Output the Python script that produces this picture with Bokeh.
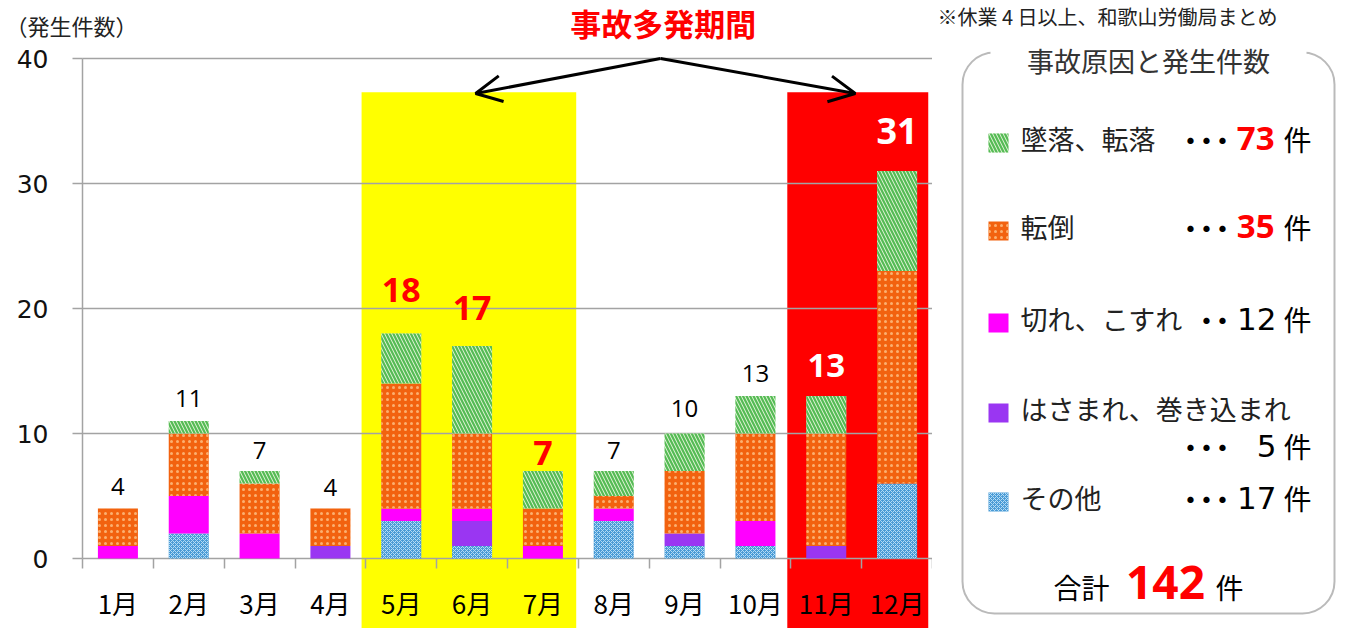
import numpy as np
from bokeh.plotting import figure
from bokeh.models import Range1d, FixedTicker, ColumnDataSource, Arrow, OpenHead, BoxAnnotation
from bokeh.layouts import row
from bokeh.embed import file_html
from bokeh.resources import INLINE
from bokeh.core.properties import value

# ---------------- data ----------------
months = ["1月", "2月", "3月", "4月", "5月", "6月", "7月", "8月", "9月", "10月", "11月", "12月"]
other  = [0, 2, 0, 0, 3, 1, 0, 3, 1, 1, 0, 6]     # その他 (blue)
pinch  = [0, 0, 0, 1, 0, 2, 0, 0, 1, 0, 1, 0]     # はさまれ、巻き込まれ (purple)
cut    = [1, 3, 2, 0, 1, 1, 1, 1, 0, 2, 0, 0]     # 切れ、こすれ (magenta)
orange = [3, 5, 4, 3, 10, 6, 3, 1, 5, 7, 9, 17]   # orange dotted series
green  = [0, 1, 1, 0, 4, 7, 3, 2, 3, 3, 3, 8]     # green hatched series
y_ticks = [0, 10, 20, 30, 40]

legend_names = ["墜落、転落", "転倒", "切れ、こすれ", "はさまれ、巻き込まれ", "その他"]
legend_counts = ["73", "35", "12", "5", "17"]
grand_total = "142"
period_title = "事故多発期間"
y_title = "（発生件数）"
legend_title = "事故原因と発生件数"
source_note = "※休業 4 日以上、和歌山労働局まとめ"

# ---------------- styles ----------------
JP = value("Noto Sans CJK JP")
GRID = "#a3a3a3"
series = [other, pinch, cut, orange, green]
styles = [
    dict(fill_color="#4a9bd6", hatch_pattern="x", hatch_color="#b5dcf5", hatch_scale=4, hatch_weight=1),
    dict(fill_color="#9a36f2"),
    dict(fill_color="#ff00ff"),
    dict(fill_color="#f2620f", hatch_pattern=".", hatch_color="#fbb070", hatch_scale=6, hatch_weight=1.5),
    dict(fill_color="#dff3d4", hatch_pattern="\\", hatch_color="#55bb55", hatch_scale=7, hatch_weight=2.2),
]
legend_style_order = [4, 3, 2, 1, 0]

W1, H = 932, 628
PX = 12.5            # pixels per y unit
CW = 850 / 12        # pixels per month
LEFT = 82            # screen x of the y axis
n = len(months)
xs = np.arange(n)
edges = np.arange(n + 1) - 0.5
totals = np.sum(np.array(series), axis=0)

x0 = -0.5 - LEFT / CW
x1 = x0 + W1 / CW
p = figure(width=W1, height=H, x_range=Range1d(x0, x1), y_range=Range1d(-(H - 558) / PX, 558 / PX),
           output_backend="svg", toolbar_location=None,
           min_border_left=0, min_border_right=0, min_border_top=0, min_border_bottom=0)
p.outline_line_color = None
p.background_fill_color = None
p.xgrid.grid_line_color = None
p.ygrid.grid_line_color = None

# highlight backgrounds
hl = p.quad(left=[3.5 - 0.06, 9.5 - 0.05], right=[6.5 - 0.03, 11.5 - 0.06], top=[37.3, 37.3], bottom=[-10, -10],
            fill_color=["#ffff00", "#ff0000"], line_color=None)
hl.level = "image"

# horizontal grid lines
gy = np.array(y_ticks, dtype=float)
p.segment(x0=np.full(len(gy), -0.5), y0=gy, x1=np.full(len(gy), n - 0.5), y1=gy,
          line_color=GRID, line_width=1.5)

# y axis at fixed location
ya = p.yaxis[0]
ya.fixed_location = -0.5
ya.ticker = FixedTicker(ticks=y_ticks)
ya.bounds = (0, 40)
ya.axis_line_color = GRID
ya.axis_line_width = 1.5
ya.major_tick_out = 10
ya.major_tick_in = 0
ya.major_tick_line_color = GRID
ya.major_tick_line_width = 1.5
ya.minor_tick_line_color = None
ya.major_label_text_font = "DejaVu Sans"
ya.major_label_text_font_size = "25px"
ya.major_label_text_color = "#111111"
ya.major_label_standoff = 24

# x axis at y = 0
xa = p.xaxis[0]
xa.fixed_location = 0
xa.ticker = FixedTicker(ticks=list(xs), minor_ticks=list(edges))
xa.major_label_overrides = {int(i): m for i, m in zip(xs, months)}
xa.axis_line_color = None
xa.major_tick_line_color = None
xa.major_tick_out = 0
xa.major_tick_in = 0
xa.minor_tick_line_color = GRID
xa.minor_tick_line_width = 1.5
xa.minor_tick_out = 10
xa.minor_tick_in = 0
xa.major_label_text_font = "Noto Sans CJK JP"
xa.major_label_text_font_size = "26px"
xa.major_label_text_color = "black"
xa.major_label_standoff = 15

# stacked bars
bottom = np.zeros(n)
for vals, st in zip(series, styles):
    top = bottom + np.array(vals)
    p.vbar(x=xs, width=0.565, bottom=bottom, top=top, line_color=None, **st)
    bottom = top

# total labels
label_px = [22, 23, 21, 21, 44, 38, 18, 21, 25, 23, 31, 40]
label_color = ["black"] * 4 + ["#ff0000"] * 3 + ["black"] * 3 + ["white"] * 2
label_size = ["24px"] * 4 + ["34px"] * 3 + ["24px"] * 3 + ["33px", "36px"]
label_bold = [False] * 4 + [True] * 3 + [False] * 3 + [True] * 2
src = ColumnDataSource(dict(x=xs, y=totals + np.array(label_px) / PX, t=[str(int(v)) for v in totals],
                            c=label_color, s=label_size, b=["bold" if b else "normal" for b in label_bold]))
p.text(x="x", y="y", text="t", source=src, text_color="c", text_font_size="s", text_font_style="b",
       text_font=value("Open Sans"), text_align="center", text_baseline="middle")

# period title and arrows
p.text(x=[7.70], y=[42.85], text=[period_title], text_font=JP, text_font_size="31px", text_font_style="bold",
       text_color="#ff0000", text_align="center", text_baseline="middle")
for xe in (5.05, 10.41):
    p.add_layout(Arrow(x_start=7.66, y_start=40.0, x_end=xe, y_end=37.2, line_width=3, line_color="black",
                       end=OpenHead(size=26, line_width=3, line_color="black")))

p.text(x=[-0.5 - 77 / CW], y=[42.7], text=[y_title], text_font=JP, text_font_size="22px",
       text_color="#222222", text_align="left", text_baseline="middle")

# ---------------- legend panel ----------------
q = figure(width=1345 - W1, height=H, x_range=Range1d(W1, 1345), y_range=Range1d(H, 0),
           output_backend="svg", toolbar_location=None, x_axis_location=None, y_axis_location=None,
           min_border_left=0, min_border_right=0, min_border_top=0, min_border_bottom=0)
q.outline_line_color = None
q.xgrid.grid_line_color = None
q.ygrid.grid_line_color = None

q.add_layout(BoxAnnotation(left=962, right=1334, top=52, bottom=613, border_radius=32, fill_alpha=0,
                           fill_color=None, line_color="#1a1a1a", line_width=2, level="underlay"))
q.quad(left=[990], right=[1306], top=[38], bottom=[80], fill_color="white", line_color=None)
q.text(x=[1148], y=[60], text=[legend_title], text_font=JP, text_font_size="27px", text_color="#333333",
       text_align="center", text_baseline="middle")
q.text(x=[937], y=[16], text=[source_note], text_font=JP, text_font_size="20px", text_color="#222222",
       text_align="left", text_baseline="middle")

row_y = [138, 226, 318, 408, 497]
count_y = [138, 226, 318, 445, 497]
dots = ["･･･", "･･･", "･･", "･･･", "･･･"]
for i in range(5):
    st = styles[legend_style_order[i]]
    q.quad(left=[988], right=[1008], top=[row_y[i] - 5], bottom=[row_y[i] + 14], line_color=None, **st)
q.text(x=[1020] * 5, y=row_y, text=legend_names, text_font=JP, text_font_size="27px", text_color="#222222",
       text_align="left", text_baseline="middle")
q.text(x=[1230] * 5, y=count_y, text=dots, text_font=JP, text_font_size="32px", text_font_style="bold",
       text_color="black", text_align="right", text_baseline="middle")
q.text(x=[1274] * 2, y=count_y[:2], text=legend_counts[:2], text_font=value("Open Sans"), text_font_size="33px",
       text_font_style="bold", text_color="#ff0000", text_align="right", text_baseline="middle")
q.text(x=[1276] * 3, y=count_y[2:], text=legend_counts[2:], text_font=value("DejaVu Sans"), text_font_size="31px",
       text_color="black", text_align="right", text_baseline="middle")
q.text(x=[1283] * 5, y=count_y, text=["件"] * 5, text_font=JP, text_font_size="28px", text_color="black",
       text_align="left", text_baseline="middle")

q.text(x=[1081], y=[586], text=["合計"], text_font=JP, text_font_size="28px", text_color="black",
       text_align="center", text_baseline="middle")
q.text(x=[1165], y=[582], text=[grand_total], text_font=value("Open Sans"), text_font_size="46px",
       text_font_style="bold", text_color="#ff0000", text_align="center", text_baseline="middle")
q.text(x=[1215], y=[586], text=["件"], text_font=JP, text_font_size="28px", text_color="black",
       text_align="left", text_baseline="middle")

layout = row(p, q)
open("out.html", "w").write(file_html(layout, INLINE))
